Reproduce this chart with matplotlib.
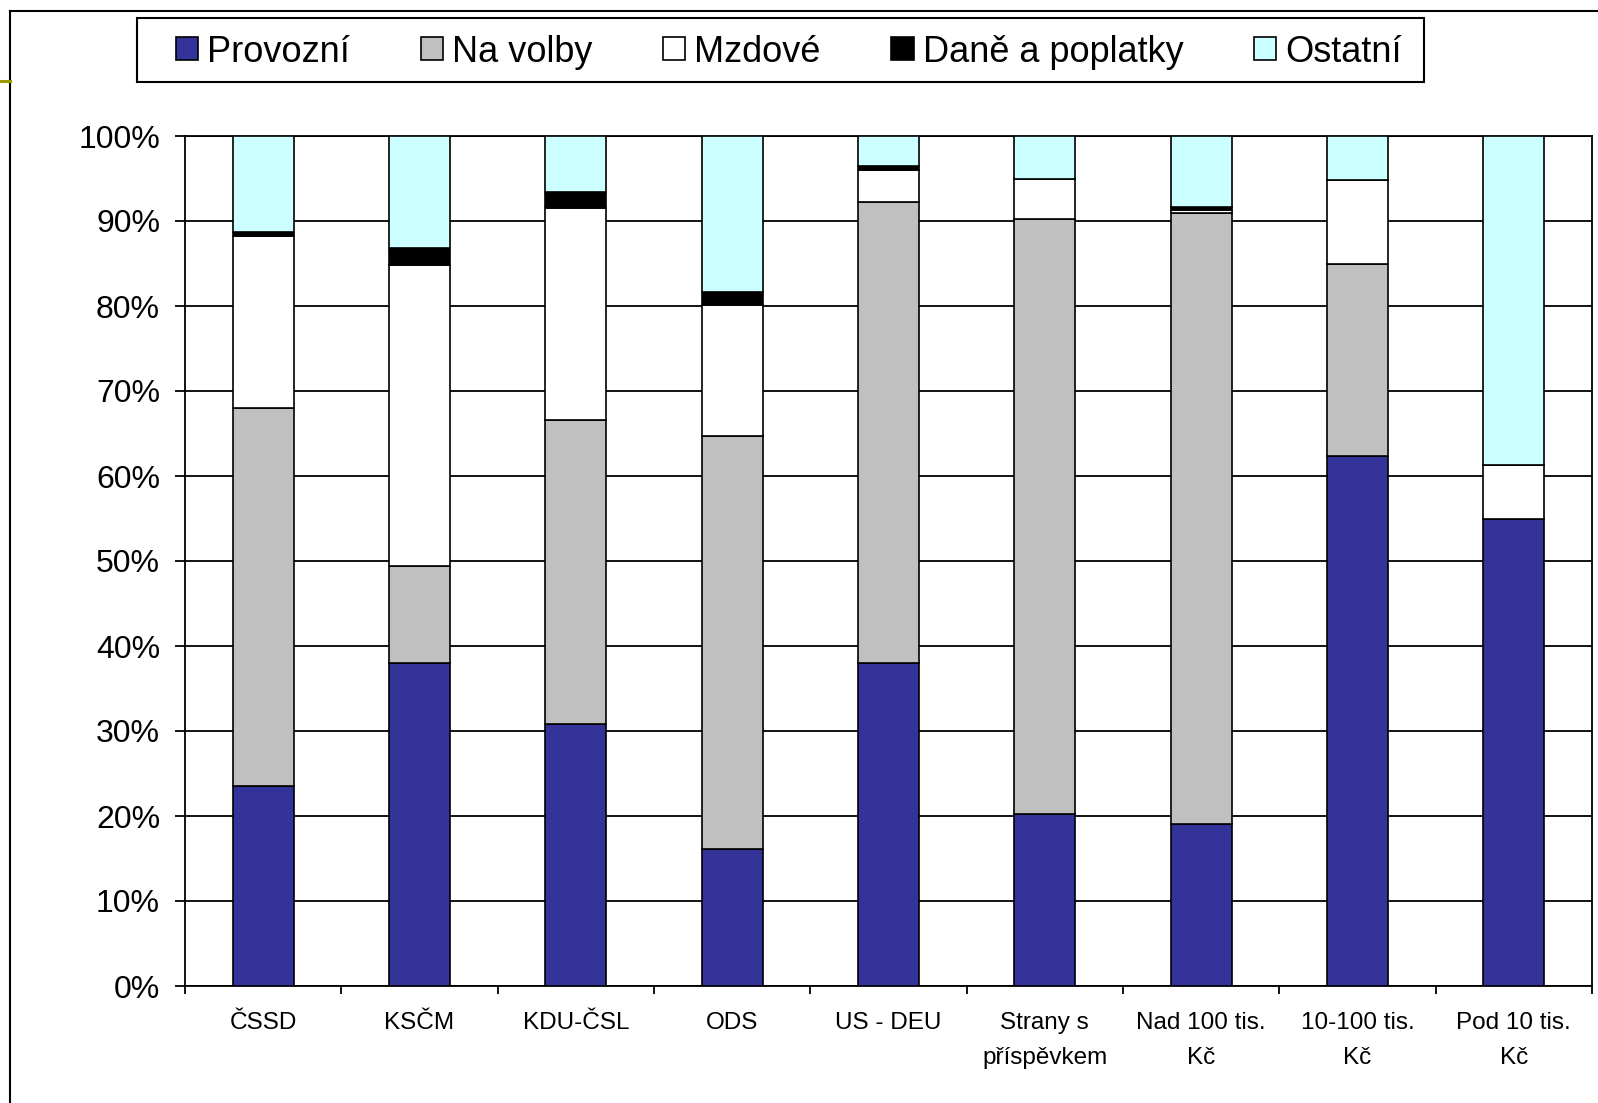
import matplotlib
matplotlib.use("Agg")
import matplotlib.pyplot as plt
from matplotlib.lines import Line2D
from matplotlib.patches import Rectangle
import numpy as np

plt.rcParams["font.family"] = ["Liberation Sans", "DejaVu Sans"]

categories = ["ČSSD", "KSČM", "KDU-ČSL", "ODS", "US - DEU", "Strany s\npříspěvkem",
              "Nad 100 tis.\nKč", "10-100 tis.\nKč", "Pod 10 tis.\nKč"]
series_names = ["Provozní", "Na volby", "Mzdové", "Daně a poplatky", "Ostatní"]
provozni = [23.5, 38.0, 30.8, 16.1, 38.0, 20.2, 19.1, 62.4, 54.9]
na_volby = [44.5, 11.4, 35.8, 48.6, 54.2, 70.0, 71.8, 22.6, 0.0]
mzdove = [20.2, 35.4, 24.9, 15.4, 3.8, 4.8, 0.4, 9.8, 6.4]
dane = [0.5, 2.0, 1.9, 1.6, 0.5, 0.0, 0.4, 0.0, 0.0]
ostatni = [11.3, 13.2, 6.6, 18.3, 3.5, 5.0, 8.3, 5.2, 38.7]
colors = ["#333399", "#C0C0C0", "#FFFFFF", "#000000", "#CCFFFF"]

W, H = 1598, 1103
fig = plt.figure(figsize=(W / 100, H / 100), dpi=100)

# outer frame (runs off the right/bottom edge) + small olive mark
fig.add_artist(Line2D([10 / W, 10 / W], [0, 1 - 11 / H], color="black", lw=1.5,
                      transform=fig.transFigure))
fig.add_artist(Line2D([10 / W, 1], [1 - 11 / H, 1 - 11 / H], color="black", lw=1.5,
                      transform=fig.transFigure))
fig.add_artist(Line2D([0, 10 / W], [1 - 81 / H, 1 - 81 / H], color="#999900", lw=2.2,
                      transform=fig.transFigure))

ax = fig.add_axes([185 / W, 1 - 986 / H, (1592 - 185) / W, (986 - 136) / H])

x = np.arange(len(categories))
bottom = np.zeros(len(categories))
handles = []
for name, vals, col in zip(series_names, [provozni, na_volby, mzdove, dane, ostatni], colors):
    b = ax.bar(x, vals, width=0.39, bottom=bottom, color=col, edgecolor="black",
               linewidth=1.2, label=name, zorder=3)
    handles.append(b)
    bottom = bottom + np.array(vals)

ax.set_xlim(-0.5, len(categories) - 0.5)
ax.set_ylim(0, 100)
ax.set_yticks(np.arange(0, 101, 10))
ax.set_yticklabels([f"{v}%" for v in range(0, 101, 10)], fontsize=23)
ax.yaxis.grid(True, color="black", lw=1.3)
ax.set_axisbelow(True)
ax.tick_params(axis="y", length=7, width=1.3, pad=11)

# boundary ticks as major, labels at centres as minor
ax.set_xticks(np.arange(-0.5, len(categories), 1.0))
ax.set_xticklabels([])
ax.tick_params(axis="x", which="major", length=6, width=1.3, direction="out")
ax.set_xticks(x, minor=True)
ax.set_xticklabels(categories, minor=True, fontsize=17.5, linespacing=1.75, va="top")
ax.tick_params(axis="x", which="minor", length=0, pad=19)

for s in ax.spines.values():
    s.set_linewidth(1.3)
    s.set_color("black")

# legend with hand-drawn frame
fig.add_artist(Rectangle((137 / W, 1 - 82 / H), (1424 - 137) / W, 64 / H,
                         transform=fig.transFigure, fill=False, edgecolor="black", lw=1.5))
fig.legend(handles=handles, labels=series_names, ncol=5, loc="center left",
           bbox_to_anchor=(176 / W, 1 - 52 / H), bbox_transform=fig.transFigure,
           frameon=False, fontsize=26, borderpad=0, borderaxespad=0,
           handlelength=0.62, handleheight=0.62, handletextpad=0.25, columnspacing=1.95)

fig.savefig("out.png", dpi=100)
